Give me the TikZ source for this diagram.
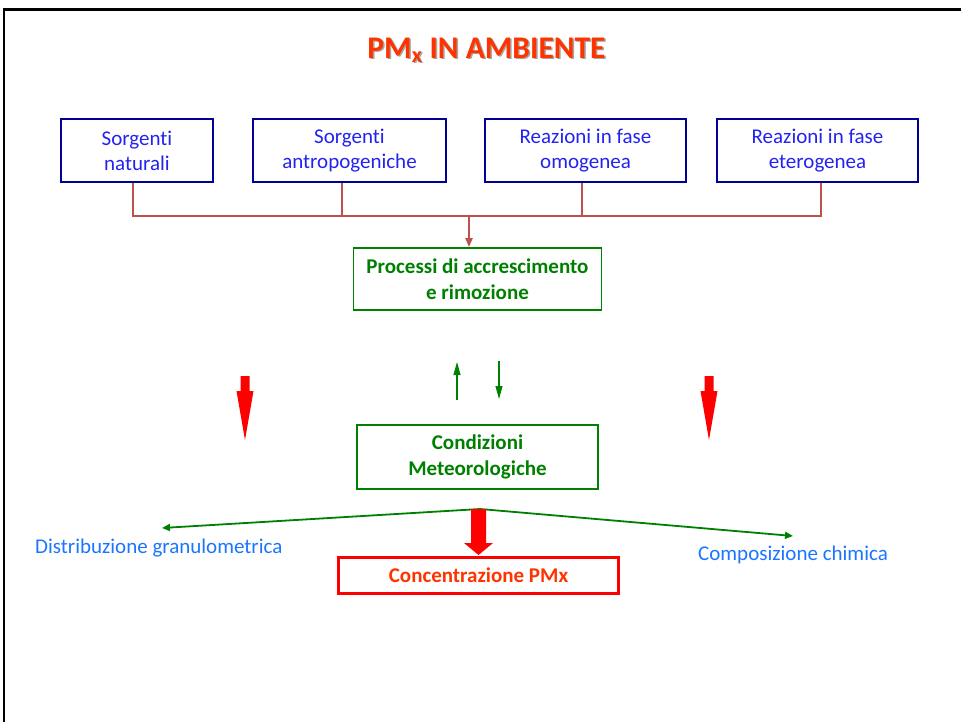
\documentclass[tikz,border=0pt]{standalone}
\usepackage{fontspec}
\setmainfont{Carlito}[Ligatures=NoCommon]
\usetikzlibrary{arrows.meta}
\definecolor{titlered}{HTML}{FF3300}
\definecolor{boxblue}{HTML}{000099}
\definecolor{textblue}{HTML}{2323F0}
\definecolor{labelblue}{HTML}{1A75FF}
\definecolor{procgreen}{HTML}{008000}
\definecolor{linkred}{HTML}{C0504D}
\tikzset{
  source/.style={draw=boxblue, line width=1.8pt, text=textblue, align=center,
    minimum height=63pt, inner sep=0pt, font=\fontsize{21}{25}\selectfont},
  process/.style={draw=procgreen, line width=1.8pt, text=procgreen, align=center,
    inner sep=0pt, font=\fontsize{21}{26}\selectfont\bfseries},
  link/.style={draw=linkred, line width=2pt},
  gline/.style={draw=procgreen, line width=1.8pt, -{Triangle[length=8pt,width=7pt]}},
  gthin/.style={draw=procgreen, line width=1.1pt, -{Triangle[length=13pt,width=7pt]}},
  label/.style={text=labelblue, font=\fontsize{21}{25}\selectfont, inner sep=0pt},
}
% fat red arrow: x, shaft half width, head half width, top, neck, tip
\newcommand{\fatarrow}[6]{\fill[red] ({#1-#2},#4) -- ({#1+#2},#4) -- ({#1+#2},#5)
  -- ({#1+#3},#5) -- (#1,#6) -- ({#1-#3},#5) -- ({#1-#2},#5) -- cycle}
\def\titletext{PM\textsubscript{x} IN AMBIENTE}

\begin{document}
\begin{tikzpicture}[x=1pt,y=-1pt]
\useasboundingbox (0,0) rectangle (961,722);
% frame:
\draw[line width=2.6pt] (4,722) -- (4,9.5) -- (961,9.5);
% title:
\node[anchor=base, text=black!35, font=\fontsize{31.5}{36}\selectfont\bfseries] at (488,60) {\titletext};
\node[anchor=base, text=titlered, font=\fontsize{31.5}{36}\selectfont\bfseries] (title) at (486.5,58.5) {\titletext};
% sources:
\node[source, minimum width=152pt] (nat) at (137,150.5) {Sorgenti\\naturali};
\node[source, minimum width=193pt] (ant) at (349.5,150.5) {Sorgenti\\antropogeniche};
\node[source, minimum width=201pt] (omo) at (585.5,150.5) {Reazioni in fase\\omogenea};
\node[source, minimum width=201pt] (ete) at (817.5,150.5) {Reazioni in fase\\eterogenea};
% processes:
\node[process, minimum width=248pt, minimum height=62pt] (proc) at (477.5,279) {Processi di accrescimento\\e rimozione};
\node[process, minimum width=241pt, minimum height=64pt] (meteo) at (477.5,457) {Condizioni\\Meteorologiche};
\node[draw=red, line width=2.6pt, text=titlered, inner sep=0pt, minimum width=280pt, minimum height=36pt,
      font=\fontsize{21}{25}\selectfont\bfseries] (conc) at (478.5,575.5) {Concentrazione PMx};
% labels:
\node[label, anchor=base west] (gran) at (35,553) {Distribuzione granulometrica};
\node[label, anchor=base west] (chim) at (698,560) {Composizione chimica};
% connectors:
\coordinate (bus) at (469,216);
\draw[link] ([xshift=-4pt]nat.south) |- (bus) -| ([xshift=3.5pt]ete.south) -- ++(0,3);
\draw[link] ([xshift=-8pt]ant.south) -- ([xshift=-8pt]ant.south |- bus);
\draw[link] ([xshift=-4pt]omo.south) -- ([xshift=-4pt]omo.south |- bus);
\draw[link, -{Triangle[length=9pt,width=7pt]}] (bus) -- (bus |- proc.north);
% exchange arrows:
\coordinate (up) at (457,400);
\coordinate (dn) at (499,361);
\draw[gthin] (up) -- ++(0,-38);
\draw[gthin] (dn) -- ++(0,38);
\fatarrow{245}{4.5}{8.5}{376}{391}{440};
\fatarrow{709}{4.5}{8.5}{376}{391}{440};
% fork:
\coordinate (fork) at (480,509);
\coordinate (gl) at (162,528);
\coordinate (gr) at (793,536);
\draw[gline] (fork) -- (gl);
\draw[gline] (fork) -- (gr);
\fatarrow{478.5}{7.5}{14.5}{509}{543}{555};
\end{tikzpicture}
\end{document}
